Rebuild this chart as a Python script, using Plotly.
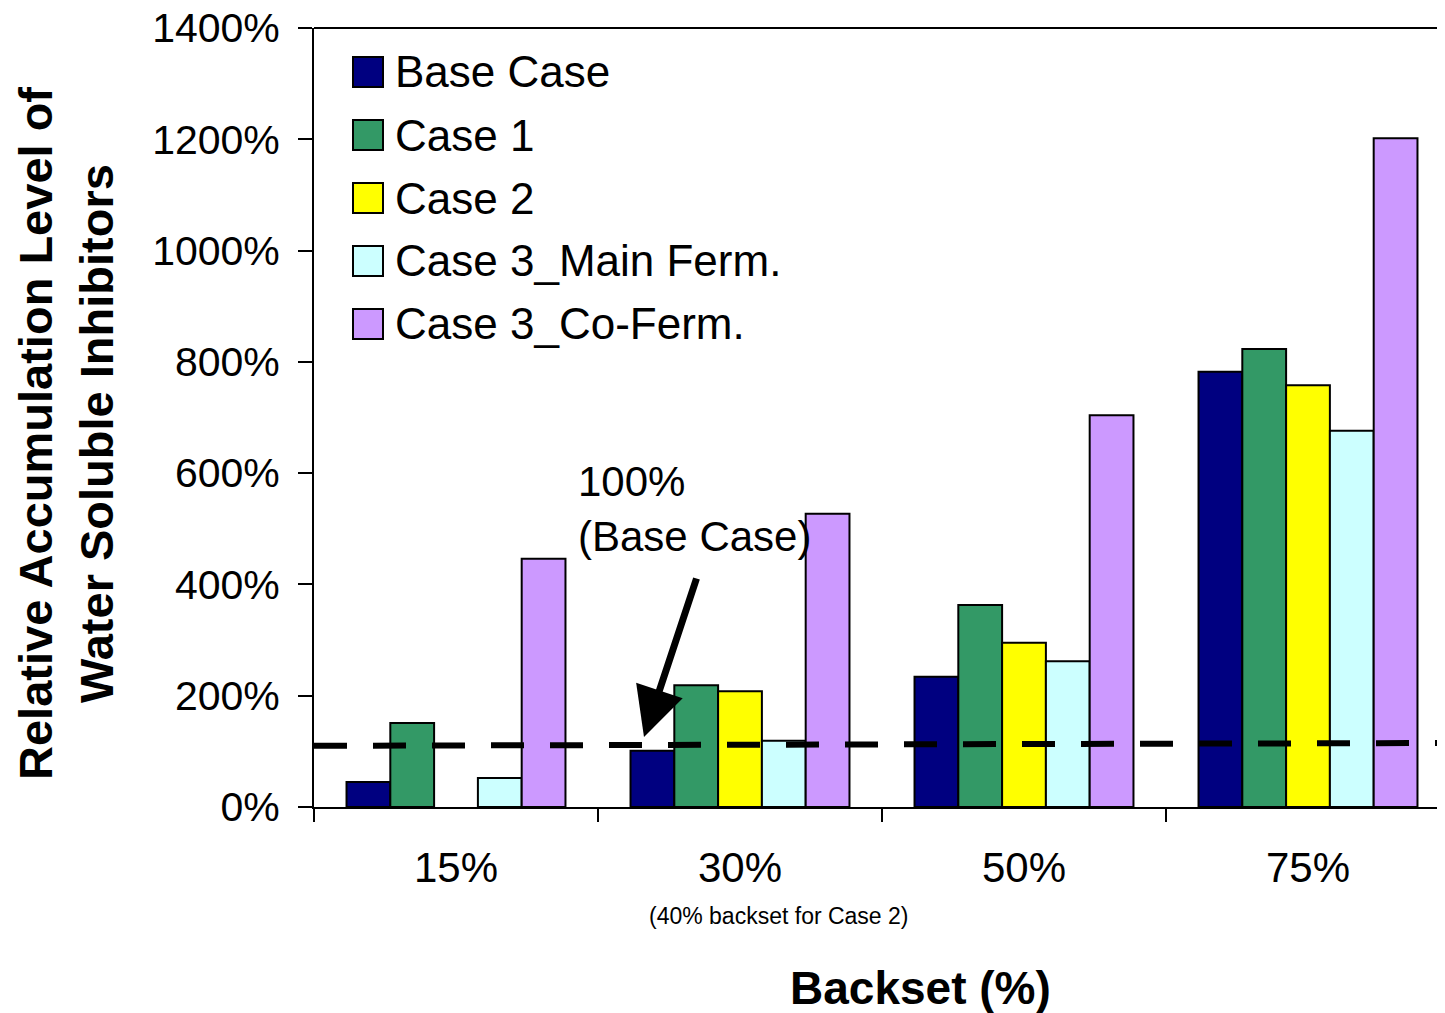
import plotly.graph_objects as go

# ---- data ----
categories = ["15%", "30%", "50%", "75%"]
series_names = ["Base Case", "Case 1", "Case 2", "Case 3_Main Ferm.", "Case 3_Co-Ferm."]
base_case = [45, 101, 234, 782]
case_1 = [151, 219, 363, 823]
case_2 = [None, 208, 295, 758]
case_3_main = [52, 119, 262, 676]
case_3_co = [446, 527, 704, 1202]
series_values = [base_case, case_1, case_2, case_3_main, case_3_co]
series_colors = ["#000080", "#339966", "#FFFF00", "#CCFFFF", "#CC99FF"]
y_ticks = [0, 200, 400, 600, 800, 1000, 1200, 1400]
y_tick_labels = [f"{v}%" for v in y_ticks]
ref_line = [110, 115]  # dashed reference line (left, right)

FONT = "Arial, Liberation Sans, sans-serif"

OFF = 8  # page body margin
W, H = 1445 - OFF, 1013 - OFF
ML, MR, MT, MB = 314 - OFF, 0, 28 - OFF, 1013 - 807
PW = W - ML - MR
PH = H - MT - MB


def px_x(p):
    return (p - OFF - ML) / PW


def px_y(p):
    return (H - MB - (p - OFF)) / PH


fig = go.Figure()
for name, vals, col in zip(series_names, series_values, series_colors):
    fig.add_trace(go.Bar(
        x=categories, y=vals, name=name,
        marker=dict(color=col, line=dict(color="black", width=2)),
        showlegend=False,
    ))

shapes = []
annotations = []

# dashed reference line
shapes.append(dict(type="line", xref="paper", yref="y", x0=0, x1=1,
                   y0=ref_line[0], y1=ref_line[1],
                   line=dict(color="black", width=6, dash="33px,26px"),
                   layer="above"))
# top border
shapes.append(dict(type="line", xref="paper", yref="paper", x0=0, x1=1, y0=1, y1=1,
                   line=dict(color="black", width=2)))

# custom legend
for i, (name, col) in enumerate(zip(series_names, series_colors)):
    cy = 72 + 63 * i
    shapes.append(dict(type="rect", xref="paper", yref="paper",
                       x0=px_x(353), x1=px_x(383), y0=px_y(cy + 15), y1=px_y(cy - 15),
                       fillcolor=col, line=dict(color="black", width=2)))
    annotations.append(dict(text=name, xref="paper", yref="paper",
                            x=px_x(393), y=px_y(cy), xanchor="left", yanchor="middle",
                            showarrow=False, font=dict(family=FONT, size=44, color="black")))

# annotation text
annotations.append(dict(text="100%<br>(Base Case)", xref="paper", yref="paper",
                        x=px_x(576), y=px_y(509), xanchor="left", yanchor="middle",
                        align="left", showarrow=False,
                        font=dict(family=FONT, size=42, color="black")))
# arrow
annotations.append(dict(text="", xref="paper", yref="paper",
                        x=px_x(644), y=px_y(737), ax=53, ay=-160,
                        showarrow=True, arrowhead=2, arrowwidth=7, arrowsize=1.4,
                        arrowcolor="black"))
# sub text
annotations.append(dict(text="(40% backset for Case 2)", xref="paper", yref="paper",
                        x=px_x(779), y=px_y(916), xanchor="center", yanchor="middle",
                        showarrow=False, font=dict(family=FONT, size=23, color="black")))
# x title
annotations.append(dict(text="<b>Backset (%)</b>", xref="paper", yref="paper",
                        x=px_x(920), y=px_y(988), xanchor="center", yanchor="middle",
                        showarrow=False, font=dict(family=FONT, size=46, color="black")))
# y title
annotations.append(dict(text="<b>Relative Accumulation Level of<br>Water Soluble Inhibitors</b>",
                        xref="paper", yref="paper", textangle=-90,
                        x=px_x(66), y=px_y(434), xanchor="center", yanchor="middle",
                        showarrow=False, font=dict(family=FONT, size=47, color="black")))

fig.update_layout(
    width=W, height=H,
    margin=dict(l=ML, r=MR, t=MT, b=MB, autoexpand=False),
    paper_bgcolor="white", plot_bgcolor="white",
    barmode="group", bargap=0.229, bargroupgap=0,
    font=dict(family=FONT, color="black"),
    shapes=shapes, annotations=annotations,
    xaxis=dict(
        type="category", range=[-0.5, 3.4824],
        showline=True, linecolor="black", linewidth=2,
        ticks="outside", tickson="boundaries", ticklen=13, tickwidth=1.5, tickcolor="black",
        tickfont=dict(family=FONT, size=42, color="black"),
        ticklabelstandoff=23, ticklabeloverflow="allow",
        showgrid=False, zeroline=False, automargin=False,
    ),
    yaxis=dict(
        range=[0, 1400], tickmode="array", tickvals=y_ticks, ticktext=y_tick_labels,
        showline=True, linecolor="black", linewidth=2,
        ticks="outside", ticklen=14, tickwidth=1.5, tickcolor="black",
        tickfont=dict(family=FONT, size=41, color="black"),
        ticklabelstandoff=10, ticklabeloverflow="allow",
        showgrid=False, zeroline=False, automargin=False,
    ),
)

fig.write_html("out.html")
